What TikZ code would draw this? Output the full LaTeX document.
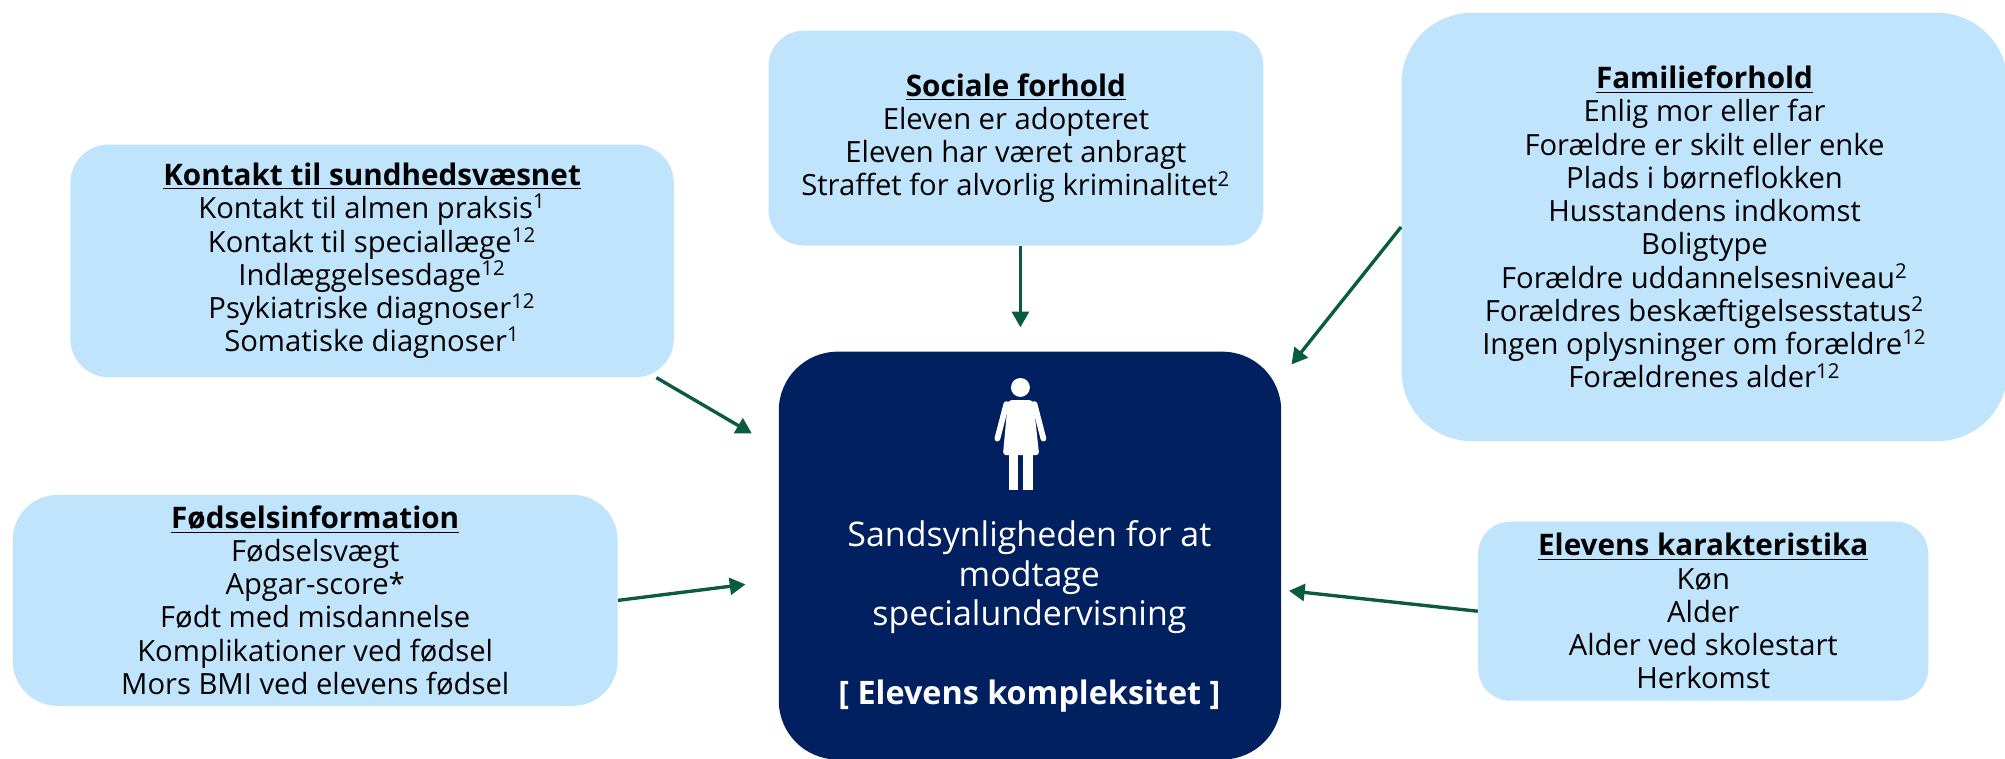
\documentclass[tikz,border=0pt]{standalone}
\usepackage{fontspec}
\setmainfont{Open Sans}
\usetikzlibrary{arrows.meta}
\definecolor{boxblue}{RGB}{192,228,252}
\definecolor{navy}{RGB}{0,32,96}
\definecolor{arrowgreen}{RGB}{10,92,64}
\tikzset{
  factor/.style={fill=boxblue, align=center, inner sep=0pt, font=\fontsize{13}{14.8}\selectfont},
  flow/.style={draw=arrowgreen, line width=1.5pt, -{Triangle[length=7pt,width=7.5pt]}},
}
\newcommand{\heading}[1]{{\fontsize{13.2}{14.8}\selectfont\bfseries\underline{#1}}}
\begin{document}
\begin{tikzpicture}[x=0.02cm,y=-0.02cm]
\useasboundingbox (0,0) rectangle (1568,593);
\fill [white] (0,0) rectangle (1568,593);

\node [factor, rounded corners=0.6cm, minimum width=9.44cm, minimum height=3.64cm] (kontakt) at (291,204)
  {\heading{Kontakt til sundhedsvæsnet}\\ Kontakt til almen praksis\textsuperscript{1}\\ Kontakt til speciallæge\textsuperscript{12}\\ Indlæggelsesdage\textsuperscript{12}\\ Psykiatriske diagnoser\textsuperscript{12}\\ Somatiske diagnoser\textsuperscript{1}};
\node [factor, rounded corners=0.55cm, minimum width=7.74cm, minimum height=3.36cm] (sociale) at (794.5,108)
  {\heading{Sociale forhold}\\ Eleven er adopteret\\ Eleven har været anbragt\\ Straffet for alvorlig kriminalitet\textsuperscript{2}};
\node [factor, rounded corners=1.1cm, minimum width=9.48cm, minimum height=6.7cm] (familie) at (1333,177.5)
  {\heading{Familieforhold}\\ Enlig mor eller far\\ Forældre er skilt eller enke\\ Plads i børneflokken\\ Husstandens indkomst\\ Boligtype\\ Forældre uddannelsesniveau\textsuperscript{2}\\ Forældres beskæftigelsesstatus\textsuperscript{2}\\ Ingen oplysninger om forældre\textsuperscript{12}\\ Forældrenes alder\textsuperscript{12}};
\node [factor, rounded corners=0.7cm, minimum width=9.46cm, minimum height=3.3cm] (foedsel) at (246.5,469.5)
  {\heading{Fødselsinformation}\\ Fødselsvægt\\ Apgar-score*\\ Født med misdannelse\\ Komplikationer ved fødsel\\ Mors BMI ved elevens fødsel};
\node [factor, rounded corners=0.5cm, minimum width=7.04cm, minimum height=2.8cm] (elevens) at (1332,478)
  {\heading{Elevens karakteristika}\\ Køn\\ Alder\\ Alder ved skolestart\\ Herkomst};

\node [fill=navy, rounded corners=0.92cm, minimum width=7.86cm, minimum height=6.38cm, inner sep=0pt] (elev) at (805.5,434.5) {};
\node [text=white, align=center, font=\fontsize{15.1}{17.5}\selectfont] (maal) at (805,482)
  {Sandsynligheden for at\\ modtage\\ specialundervisning\\[17.5pt] {\fontsize{14.4}{17.5}\selectfont\bfseries [ Elevens kompleksitet ]}};

\fill [white] (798,303) circle [radius=0.148cm];
\fill [white, rounded corners=1.5pt] (788.3,313) -- (808,313) -- (812.7,356) -- (784.3,356) -- cycle;
\draw [white, line width=0.09cm, line cap=round] (787,316) -- (780,343);
\draw [white, line width=0.09cm, line cap=round] (809,316) -- (816,343);
\fill [white] (788.8,355) rectangle (796.2,383);
\fill [white] (800.1,355) rectangle (807.7,383);

\coordinate (ktip) at (588,339);
\coordinate (stip) at (798,256);
\coordinate (ftip) at (1010,285);
\coordinate (btip) at (583,457);
\coordinate (etip) at (1008,462);
\draw [flow] ([xshift=-0.28cm]kontakt.south east) -- (ktip);
\draw [flow] (sociale.south -| stip) -- (stip);
\draw [flow] (familie.west) -- (ftip);
\draw [flow] (foedsel.east) -- (btip);
\draw [flow] (elevens.west) -- (etip);
\end{tikzpicture}
\end{document}
